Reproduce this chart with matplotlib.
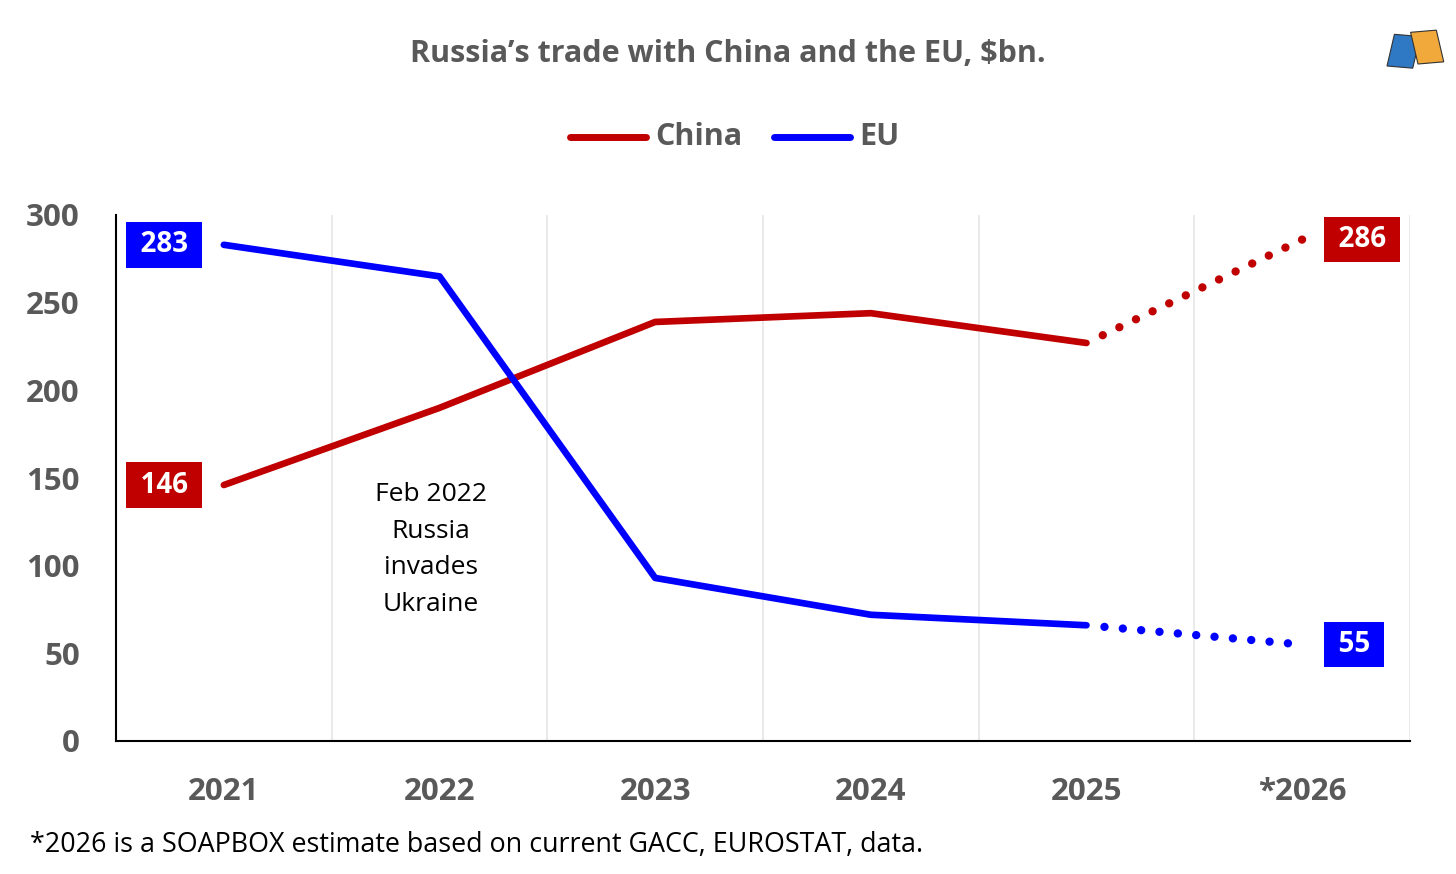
import matplotlib.pyplot as plt
from matplotlib.patches import Rectangle

plt.rcParams['font.family'] = ['Open Sans', 'DejaVu Sans']

years = ["2021", "2022", "2023", "2024", "2025", "*2026"]
china = [146, 190, 239, 244, 227, 286]
eu = [283, 265, 93, 72, 66, 55]

red = "#C00000"
blue = "#0000FF"
grey = "#595959"

fig = plt.figure(figsize=(14.56, 8.74), dpi=100)
ax = fig.add_axes([116 / 1456, 1 - 741 / 874, (1410 - 116) / 1456, (741 - 215) / 874])

x = list(range(len(years)))
# solid part for actual data, dotted for the estimate
ax.plot(x[:5], china[:5], color=red, lw=4.8, solid_capstyle="round", solid_joinstyle="round")
ax.plot(x[:5], eu[:5], color=blue, lw=4.8, solid_capstyle="round", solid_joinstyle="round")
ax.plot(x[4:], china[4:], color=red, lw=6, linestyle=(0.05, (0.01, 2.2)), dash_capstyle="round")
ax.plot(x[4:], eu[4:], color=blue, lw=6, linestyle=(0.05, (0.01, 2.2)), dash_capstyle="round")

ax.set_xlim(-0.5, 5.5)
ax.set_ylim(0, 300)
ax.set_xticks(x)
ax.set_xticklabels(years)
ax.set_yticks(range(0, 301, 50))
for b in [0.5, 1.5, 2.5, 3.5, 4.5, 5.5]:
    ax.axvline(b, color="#E6E6E6", lw=1.2, zorder=0)

ax.tick_params(axis="both", length=0, labelsize=22.5, labelcolor=grey)
ax.tick_params(axis="x", pad=26)
ax.tick_params(axis="y", pad=26)
for lab in ax.get_xticklabels() + ax.get_yticklabels():
    lab.set_fontweight("bold")
for s in ["top", "right"]:
    ax.spines[s].set_visible(False)
ax.spines["left"].set_linewidth(1.5)
ax.spines["bottom"].set_linewidth(1.5)

# value boxes at the ends
def end_label(xi, val, color, ha):
    off = -0.142 if ha == "right" else 0.142
    ax.text(xi + off, val, "\u2009" + str(val) + "\u2009", ha=ha, va="center", color="white",
            fontsize=20, fontweight="bold",
            bbox=dict(boxstyle="square,pad=0.3", lw=0, fc=color))

end_label(x[0], china[0], red, "right")
end_label(x[0], eu[0], blue, "right")
end_label(x[-1], china[-1], red, "left")
end_label(x[-1], eu[-1], blue, "left")

ax.text(0.96, 147.5, "Feb 2022\nRussia\ninvades\nUkraine", ha="center", va="top",
        fontsize=19, color="black", linespacing=1.6)

fig.text(0.5, 1 - 54 / 874, "Russia\u2019s trade with China and the EU, $bn.", ha="center",
         va="center", fontsize=22, fontweight="bold", color=grey)
fig.text(30 / 1456, 1 - 845 / 874, "*2026 is a SOAPBOX estimate based on current GACC, EUROSTAT, data.",
         ha="left", va="center", fontsize=19.4, color="black")

# legend drawn by hand to match the original layout
fig.add_artist(plt.Line2D([570 / 1456, 646 / 1456], [1 - 137 / 874] * 2, color=red, lw=5,
                          solid_capstyle="round"))
fig.text(655 / 1456, 1 - 137 / 874, "China", ha="left", va="center", fontsize=22,
         fontweight="bold", color=grey)
fig.add_artist(plt.Line2D([774 / 1456, 850 / 1456], [1 - 137 / 874] * 2, color=blue, lw=5,
                          solid_capstyle="round"))
fig.text(859 / 1456, 1 - 137 / 874, "EU", ha="left", va="center", fontsize=22,
         fontweight="bold", color=grey)

# crude logo
fig.add_artist(Rectangle((1387 / 1456, 1 - 66 / 874), 26 / 1456, 32 / 874, angle=-8,
                         transform=fig.transFigure, fc="#2F78C4", ec="#333333", lw=0.8))
fig.add_artist(Rectangle((1418 / 1456, 1 - 64 / 874), 26 / 1456, 32 / 874, angle=8,
                         transform=fig.transFigure, fc="#F2A93B", ec="#333333", lw=0.8))

fig.savefig("out.png", dpi=100)
